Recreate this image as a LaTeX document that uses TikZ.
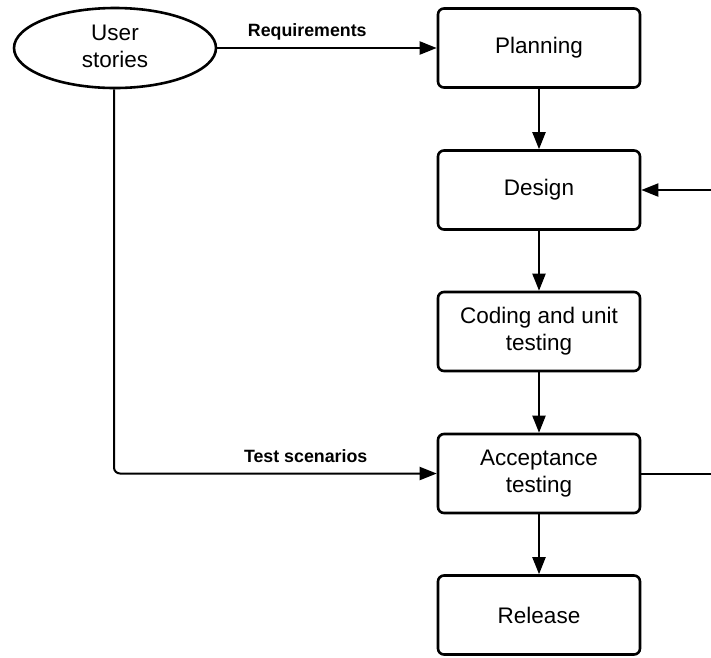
\documentclass[tikz,border=0pt]{standalone}
\usepackage{fontspec}
\setmainfont{Liberation Sans}
\usetikzlibrary{arrows.meta,shapes.geometric}
\begin{document}
\begin{tikzpicture}[x=1pt,y=-1pt,
  stepbox/.style={draw,line width=2.6pt,rounded corners=6pt,minimum width=202pt,minimum height=79pt,align=center,inner sep=0pt,font=\fontsize{22.5}{27}\selectfont},
  oval/.style={draw,ellipse,line width=2.6pt,minimum width=202pt,minimum height=80pt,inner sep=0pt,align=center,font=\fontsize{22.5}{27}\selectfont},
  conn/.style={line width=2pt,-{Triangle[length=17pt,width=13pt]}},
  plain/.style={line width=2pt},
  lbl/.style={font=\fontsize{17.8}{20}\selectfont\bfseries,inner sep=0pt}]
\useasboundingbox (0,0) rectangle (711,657);
\node[oval] (us) at (115,48) {\raisebox{3pt}{\shortstack{User\\[7pt]stories}}};
\node[stepbox] (plan) at (539,48) {Planning};
\node[stepbox] (des) at (539,190) {Design};
\node[stepbox] (code) at (539,331.5) {Coding and unit\\testing};
\node[stepbox] (acc) at (539,473.5) {Acceptance\\testing};
\node[stepbox] (rel) at (539,615) {Release};
\coordinate (edgeA) at (711,473.5);
\coordinate (edgeD) at (711,190);
\draw[conn] (us.east) -- node[lbl,above=7pt,pos=0.41] {Requirements} (plan.west);
\draw[conn] (plan) -- (des);
\draw[conn] (des) -- (code);
\draw[conn] (code) -- (acc);
\draw[conn] (acc) -- (rel);
\draw[conn,rounded corners=6pt] (us.south -| 114,0) |- node[lbl,above=10pt,pos=0.797] {Test scenarios} (acc.west);
\draw[plain] (acc.east) -- (edgeA);
\draw[conn] (edgeD) -- (des.east);
\end{tikzpicture}
\end{document}
